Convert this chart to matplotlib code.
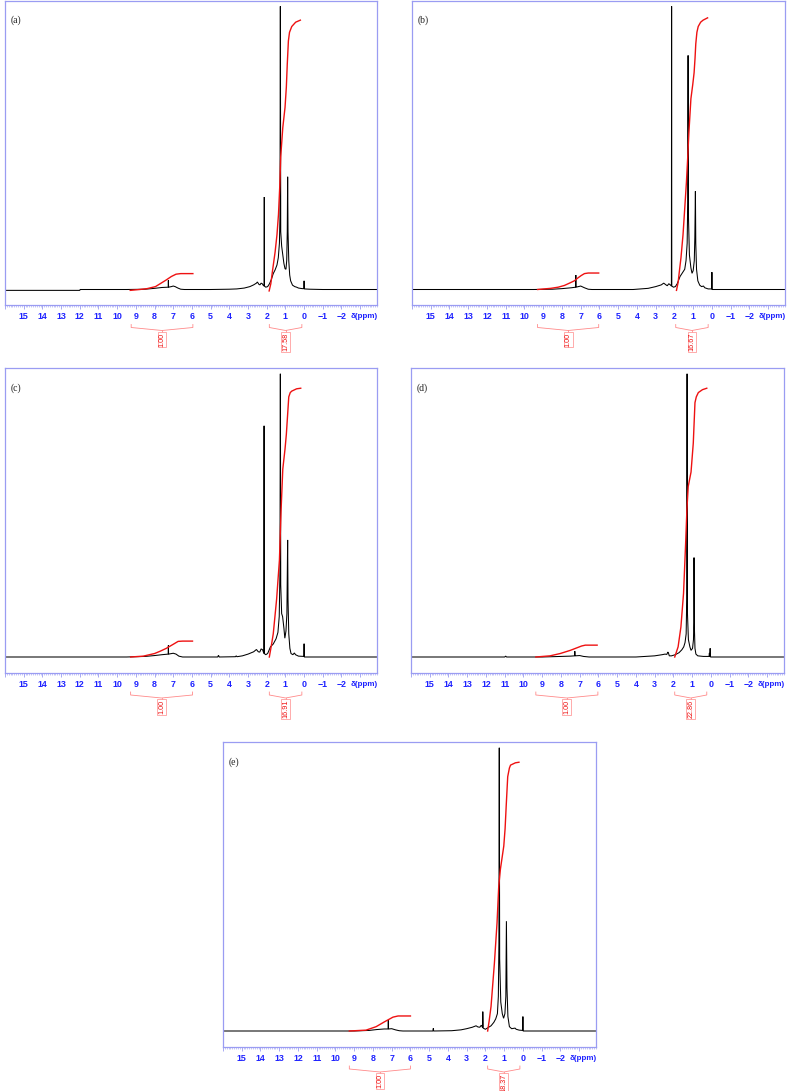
import matplotlib
matplotlib.use('Agg')
import matplotlib.pyplot as plt
from matplotlib.ticker import MultipleLocator, FixedLocator
from matplotlib.transforms import blended_transform_factory

# ---- data: (ppm, relative intensity) ----
spec_a = [(16.0, -0.003), (12.0, -0.003), (11.98, 0.0), (9.5, 0.0), (8.5, 0.001), (8.0, 0.004),
          (7.6, 0.007), (7.27, 0.008), (7.26, 0.032), (7.25, 0.008), (7.1, 0.01), (7.0, 0.012),
          (6.9, 0.01), (6.75, 0.005), (6.6, 0.001), (6.4, 0.0), (5.0, 0.0), (4.0, 0.001),
          (3.6, 0.002), (3.2, 0.005), (2.9, 0.01), (2.7, 0.016), (2.55, 0.022), (2.5, 0.026),
          (2.42, 0.018), (2.36, 0.016), (2.3, 0.022), (2.24, 0.02), (2.18, 0.014), (2.14, 0.012),
          (2.13, 0.32), (2.12, 0.012), (2.05, 0.008), (1.95, 0.01), (1.85, 0.02), (1.75, 0.035),
          (1.65, 0.055), (1.55, 0.068), (1.45, 0.085), (1.38, 0.11), (1.32, 0.16), (1.29, 0.25),
          (1.27, 0.98), (1.25, 0.2), (1.2, 0.15), (1.15, 0.125), (1.08, 0.09), (1.02, 0.072),
          (0.97, 0.07), (0.93, 0.1), (0.9, 0.2), (0.88, 0.39), (0.86, 0.2), (0.82, 0.1),
          (0.77, 0.05), (0.72, 0.03), (0.62, 0.015), (0.5, 0.01), (0.4, 0.008), (0.3, 0.005),
          (0.1, 0.003), (0.01, 0.003), (0.0, 0.03), (-0.01, 0.002), (-0.3, 0.001), (-1.0, 0.0),
          (-3.9, 0.0)]
spec_b = [(16.0, 0.0), (9.5, 0.0), (8.5, 0.001), (8.0, 0.003), (7.5, 0.006), (7.27, 0.008),
          (7.26, 0.05), (7.25, 0.008), (7.0, 0.012), (6.8, 0.006), (6.6, 0.001), (6.4, 0.0),
          (4.2, 0.0), (3.8, 0.002), (3.4, 0.004), (3.0, 0.01), (2.7, 0.016), (2.57, 0.022),
          (2.45, 0.016), (2.38, 0.013), (2.3, 0.02), (2.22, 0.016), (2.16, 0.012), (2.15, 0.98),
          (2.14, 0.012), (2.05, 0.008), (1.95, 0.01), (1.85, 0.02), (1.7, 0.045), (1.55, 0.06),
          (1.45, 0.07), (1.38, 0.1), (1.32, 0.16), (1.29, 0.3), (1.27, 0.81), (1.25, 0.25),
          (1.2, 0.12), (1.12, 0.075), (1.06, 0.056), (1.0, 0.065), (0.94, 0.1), (0.91, 0.18),
          (0.88, 0.34), (0.86, 0.16), (0.82, 0.07), (0.75, 0.03), (0.65, 0.015), (0.55, 0.01),
          (0.45, 0.012), (0.38, 0.006), (0.2, 0.002), (0.01, 0.002), (0.0, 0.06), (-0.01, 0.0),
          (-3.9, 0.0)]
spec_c = [(16.0, 0.0), (9.5, 0.0), (8.5, 0.002), (8.0, 0.005), (7.6, 0.008), (7.27, 0.01),
          (7.26, 0.04), (7.25, 0.01), (7.0, 0.013), (6.85, 0.01), (6.7, 0.003), (6.5, 0.0),
          (4.62, 0.0), (4.58, 0.006), (4.54, 0.0), (3.67, 0.001), (3.63, 0.004), (3.59, 0.001),
          (3.3, 0.004), (3.0, 0.01), (2.7, 0.018), (2.55, 0.026), (2.45, 0.018), (2.37, 0.017),
          (2.3, 0.028), (2.22, 0.025), (2.15, 0.012), (2.14, 0.80), (2.13, 0.012), (2.05, 0.008),
          (1.95, 0.012), (1.8, 0.035), (1.65, 0.045), (1.5, 0.063), (1.4, 0.085), (1.33, 0.14),
          (1.29, 0.3), (1.27, 0.98), (1.25, 0.25), (1.2, 0.15), (1.15, 0.14), (1.08, 0.1),
          (1.03, 0.065), (0.97, 0.09), (0.92, 0.15), (0.88, 0.405), (0.86, 0.2), (0.82, 0.08),
          (0.76, 0.03), (0.7, 0.012), (0.6, 0.008), (0.52, 0.014), (0.46, 0.008), (0.3, 0.003),
          (0.01, 0.002), (0.0, 0.046), (-0.01, 0.0), (-3.9, 0.0)]
spec_d = [(16.0, 0.0), (11.0, 0.0), (10.95, 0.003), (10.9, 0.0), (9.0, 0.0), (8.0, 0.002),
          (7.5, 0.003), (7.27, 0.004), (7.26, 0.02), (7.25, 0.004), (7.0, 0.005), (6.8, 0.002),
          (6.5, 0.0), (4.0, 0.0), (3.5, 0.002), (3.0, 0.004), (2.6, 0.008), (2.45, 0.01),
          (2.35, 0.009), (2.3, 0.017), (2.27, 0.015), (2.22, 0.004), (2.1, 0.004), (1.9, 0.008),
          (1.7, 0.015), (1.55, 0.025), (1.45, 0.035), (1.38, 0.05), (1.32, 0.08), (1.29, 0.2),
          (1.27, 0.98), (1.25, 0.15), (1.2, 0.06), (1.12, 0.035), (1.06, 0.023), (0.98, 0.03),
          (0.93, 0.06), (0.91, 0.12), (0.9, 0.344), (0.88, 0.1), (0.85, 0.03), (0.8, 0.01),
          (0.7, 0.004), (0.4, 0.002), (0.1, 0.002), (0.08, 0.014), (0.06, 0.002), (0.04, 0.03),
          (0.02, 0.0), (-3.9, 0.0)]
spec_e = [(16.0, 0.0), (9.0, 0.0), (8.2, 0.002), (7.8, 0.005), (7.4, 0.007), (7.19, 0.007),
          (7.18, 0.038), (7.17, 0.007), (7.0, 0.008), (6.8, 0.004), (6.6, 0.001), (6.4, 0.0),
          (4.8, 0.0), (4.78, 0.009), (4.76, 0.0), (3.8, 0.001), (3.3, 0.004), (3.0, 0.008),
          (2.7, 0.013), (2.5, 0.018), (2.4, 0.014), (2.3, 0.013), (2.22, 0.02), (2.15, 0.012),
          (2.14, 0.067), (2.12, 0.01), (2.0, 0.006), (1.85, 0.012), (1.7, 0.018), (1.55, 0.03),
          (1.45, 0.042), (1.36, 0.06), (1.31, 0.12), (1.28, 0.3), (1.26, 0.98), (1.24, 0.25),
          (1.18, 0.1), (1.1, 0.06), (1.03, 0.044), (0.96, 0.06), (0.91, 0.12), (0.88, 0.38),
          (0.85, 0.15), (0.8, 0.05), (0.72, 0.015), (0.6, 0.008), (0.42, 0.01), (0.36, 0.006),
          (0.2, 0.003), (0.01, 0.002), (0.0, 0.05), (-0.01, 0.0), (-3.9, 0.0)]

# integral curves (ppm, integral height)
arom_a = [(9.3, -0.003), (8.8, 0.0), (8.4, 0.003), (7.95, 0.01), (7.7, 0.02), (7.4, 0.032),
          (7.1, 0.045), (6.85, 0.053), (6.6, 0.055), (5.95, 0.055)]
main_a = [(1.87, -0.005), (1.78, 0.02), (1.7, 0.06), (1.55, 0.13), (1.45, 0.19), (1.37, 0.26),
          (1.3, 0.36), (1.25, 0.46), (1.14, 0.56), (1.02, 0.63), (0.95, 0.7), (0.9, 0.78),
          (0.84, 0.86), (0.78, 0.89), (0.66, 0.91), (0.45, 0.925), (0.2, 0.932)]
arom_b = [(9.3, 0.0), (8.6, 0.004), (8.2, 0.008), (7.87, 0.014), (7.6, 0.022), (7.34, 0.03),
          (7.15, 0.04), (6.98, 0.048), (6.8, 0.055), (6.6, 0.057), (6.04, 0.057)]
main_b = [(1.89, -0.003), (1.8, 0.025), (1.75, 0.055), (1.65, 0.11), (1.54, 0.19), (1.45, 0.28),
          (1.36, 0.37), (1.28, 0.47), (1.23, 0.54), (1.12, 0.66), (1.02, 0.71), (0.95, 0.75),
          (0.9, 0.8), (0.86, 0.85), (0.8, 0.89), (0.73, 0.91), (0.6, 0.925), (0.47, 0.932),
          (0.23, 0.94)]
arom_c = [(9.28, 0.0), (8.6, 0.003), (8.0, 0.012), (7.7, 0.02), (7.37, 0.03), (7.0, 0.044),
          (6.74, 0.054), (6.5, 0.055), (5.97, 0.055)]
main_c = [(1.86, 0.0), (1.75, 0.04), (1.65, 0.08), (1.47, 0.2), (1.32, 0.335), (1.23, 0.51),
          (1.14, 0.65), (1.02, 0.72), (0.95, 0.77), (0.9, 0.82), (0.82, 0.9), (0.74, 0.915),
          (0.66, 0.92), (0.4, 0.928), (0.18, 0.93)]
arom_d = [(9.34, 0.0), (8.58, 0.004), (8.04, 0.012), (7.5, 0.023), (7.14, 0.032), (6.9, 0.038),
          (6.7, 0.041), (6.07, 0.041)]
main_d = [(1.93, 0.0), (1.75, 0.035), (1.6, 0.104), (1.46, 0.22), (1.35, 0.39), (1.28, 0.51),
          (1.21, 0.59), (1.06, 0.64), (0.94, 0.74), (0.85, 0.88), (0.78, 0.9), (0.67, 0.915),
          (0.45, 0.925), (0.22, 0.93)]
arom_e = [(9.26, 0.0), (8.37, 0.003), (7.83, 0.015), (7.38, 0.032), (6.93, 0.048), (6.66, 0.052),
          (6.0, 0.052)]
main_e = [(1.88, 0.0), (1.8, 0.035), (1.7, 0.085), (1.52, 0.235), (1.38, 0.374), (1.29, 0.5),
          (1.2, 0.56), (1.02, 0.64), (0.95, 0.7), (0.89, 0.78), (0.81, 0.88), (0.72, 0.91),
          (0.66, 0.92), (0.4, 0.928), (0.21, 0.93)]

# integration brackets (start ppm, end ppm) and their values
ranges_a = [(9.25, 5.95), (1.86, 0.12)]
ranges_b = [(9.3, 6.04), (1.93, 0.2)]
ranges_c = [(9.28, 5.97), (1.86, 0.12)]
ranges_d = [(9.34, 6.03), (1.93, 0.22)]
ranges_e = [(9.26, 6.0), (1.88, 0.16)]
values_a = ["1.00", "17.58"]
values_b = ["1.00", "16.67"]
values_c = ["1.00", "16.91"]
values_d = ["1.00", "22.86"]
values_e = ["1.00", "18.37"]

tick_ppm = list(range(-3, 17))
tick_text = ['' if t in (16, -3) else str(t).replace('-', '\u2212') for t in tick_ppm]

# ---- style ----
frame_col = '#9a9cf2'
tick_col = '#1e22ff'
int_col = '#ee1111'
brk_col = '#ff8a8a'

W, H = 787, 1091
fig = plt.figure(figsize=(W / 100, H / 100), dpi=100)


def panel(left, top, width, height):
    return fig.add_axes([left / W, (H - top - height) / H, width / W, height / H])


def draw_panel(ax, spec, arom, main, ranges, values, tag):
    h_px = 305.0
    ax.set_xlim(16.0, -3.9)
    ax.set_ylim(-16 / 289, 1.0)
    x, y = zip(*spec)
    ax.plot(x, y, color='black', lw=0.75, solid_joinstyle='miter')
    for curve in (arom, main):
        cx, cy = zip(*curve)
        ax.plot(cx, cy, color=int_col, lw=1.0)

    for s in ax.spines.values():
        s.set_color(frame_col)
        s.set_linewidth(0.9)
    ax.set_yticks([])
    ax.xaxis.set_major_locator(FixedLocator(tick_ppm))
    ax.set_xticklabels(tick_text)
    ax.xaxis.set_minor_locator(MultipleLocator(0.1))
    ax.tick_params(axis='x', which='major', direction='out', length=3, width=0.6,
                   color=frame_col, pad=1.8, labelsize=6.4, labelcolor=tick_col)
    ax.tick_params(axis='x', which='minor', direction='out', length=1.6, width=0.4,
                   color=frame_col)
    for lab in ax.get_xticklabels():
        lab.set_fontweight('bold')
        lab.set_fontfamily('Liberation Sans')

    tr = blended_transform_factory(ax.transData, ax.transAxes)
    ax.text(-2.5, -11.5 / h_px, '\u03b4(ppm)', transform=tr, ha='left', va='center',
            fontsize=5.8, fontweight='bold', color=tick_col, family='Liberation Sans')

    for (p0, p1), val in zip(ranges, values):
        c = (p0 + p1) / 2
        y0, y1, y2, y3 = -19 / h_px, -22 / h_px, -25 / h_px, -27 / h_px
        ax.plot([p0, p0, c, p1, p1], [y0, y1, y2, y1, y0], transform=tr,
                color=brk_col, lw=0.6, clip_on=False)
        ax.plot([c, c], [y2, y3], transform=tr, color=brk_col, lw=0.6, clip_on=False)
        ax.text(c, y3, val, transform=tr, rotation=90, ha='center', va='top',
                fontsize=5.2, color=int_col, family='Liberation Sans',
                bbox=dict(boxstyle='square,pad=0.12', fc='white', ec=brk_col, lw=0.5))

    ax.text(6 / 372, 1 - 20 / h_px, tag, transform=ax.transAxes, ha='left', va='center',
            fontsize=7, family='Liberation Serif', color='#222222')


ax_a = panel(5, 0.5, 372, 305)
ax_b = panel(412, 0.5, 373, 305)
ax_c = panel(5, 368, 372, 305)
ax_d = panel(411, 368, 373, 305)
ax_e = panel(223, 742, 373, 305)

draw_panel(ax_a, spec_a, arom_a, main_a, ranges_a, values_a, '(a)')
draw_panel(ax_b, spec_b, arom_b, main_b, ranges_b, values_b, '(b)')
draw_panel(ax_c, spec_c, arom_c, main_c, ranges_c, values_c, '(c)')
draw_panel(ax_d, spec_d, arom_d, main_d, ranges_d, values_d, '(d)')
draw_panel(ax_e, spec_e, arom_e, main_e, ranges_e, values_e, '(e)')

fig.savefig('out.png', dpi=100, facecolor='white')
